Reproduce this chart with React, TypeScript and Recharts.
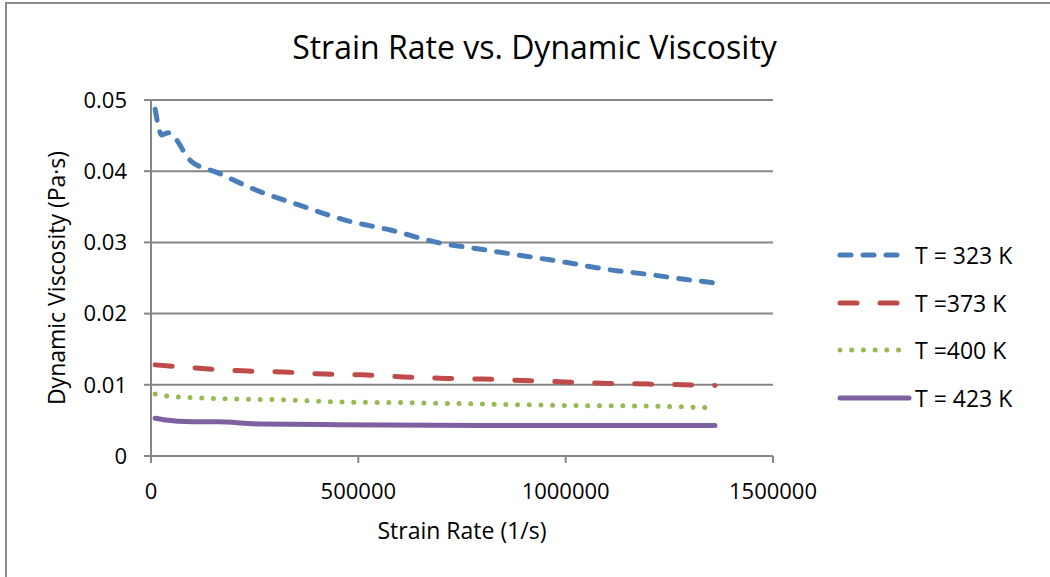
import React from 'react';
import { LineChart, Line, XAxis, YAxis, CartesianGrid } from 'recharts';

// strain rate (1/s) vs. dynamic viscosity (Pa·s) for four temperatures
const t323 = [
  { x: 10000, y: 0.0487 },
  { x: 26000, y: 0.0451 },
  { x: 42000, y: 0.0454 },
  { x: 95000, y: 0.0415 },
  { x: 160000, y: 0.0398 },
  { x: 260000, y: 0.0372 },
  { x: 360000, y: 0.0352 },
  { x: 470000, y: 0.0331 },
  { x: 580000, y: 0.0317 },
  { x: 690000, y: 0.03 },
  { x: 800000, y: 0.029 },
  { x: 900000, y: 0.0281 },
  { x: 1000000, y: 0.0272 },
  { x: 1100000, y: 0.0262 },
  { x: 1200000, y: 0.0255 },
  { x: 1290000, y: 0.0248 },
  { x: 1360000, y: 0.0243 },
];

const t373 = [
  { x: 10000, y: 0.0128 },
  { x: 100000, y: 0.0124 },
  { x: 200000, y: 0.012 },
  { x: 320000, y: 0.0118 },
  { x: 420000, y: 0.0115 },
  { x: 510000, y: 0.0114 },
  { x: 610000, y: 0.0111 },
  { x: 710000, y: 0.0109 },
  { x: 800000, y: 0.0108 },
  { x: 900000, y: 0.0106 },
  { x: 1000000, y: 0.0104 },
  { x: 1100000, y: 0.0102 },
  { x: 1200000, y: 0.0101 },
  { x: 1360000, y: 0.0099 },
];

const t400 = [
  { x: 10000, y: 0.0087 },
  { x: 40000, y: 0.0084 },
  { x: 100000, y: 0.0082 },
  { x: 200000, y: 0.008 },
  { x: 320000, y: 0.0079 },
  { x: 440000, y: 0.0076 },
  { x: 600000, y: 0.0075 },
  { x: 800000, y: 0.0073 },
  { x: 1000000, y: 0.0071 },
  { x: 1200000, y: 0.007 },
  { x: 1350000, y: 0.0068 },
];

const t423 = [
  { x: 10000, y: 0.0053 },
  { x: 30000, y: 0.0051 },
  { x: 100000, y: 0.0048 },
  { x: 160000, y: 0.0048 },
  { x: 260000, y: 0.0045 },
  { x: 450000, y: 0.0044 },
  { x: 800000, y: 0.0043 },
  { x: 1360000, y: 0.0043 },
];

const xTicks = [0, 500000, 1000000, 1500000];
const yTicks = [0, 0.01, 0.02, 0.03, 0.04, 0.05];

const series = [
  { name: 'T = 323 K', data: t323, color: '#4a7ebb', dash: '11 12' },
  { name: 'T =373 K', data: t373, color: '#be4b48', dash: '17 23' },
  { name: 'T =400 K', data: t400, color: '#98b954', dash: '0 11.7' },
  { name: 'T = 423 K', data: t423, color: '#7d60a0', dash: undefined },
];

const FONT = '"Open Sans", sans-serif';
const GRID = '#868686';

// legend sits to the right of the plot, one row per temperature
const SeriesLegend = () => (
  <div style={{ position: 'absolute', left: 837, top: 240, width: 210, height: 190 }}>
    {series.map((s, i) => (
      <div
        key={s.name}
        style={{ position: 'absolute', left: 0, top: i * 47.5, height: 30, display: 'flex', alignItems: 'center' }}
      >
        <svg width={76} height={12}>
          <line
            x1={3}
            y1={6}
            x2={72}
            y2={6}
            stroke={s.color}
            strokeWidth={5}
            strokeLinecap="round"
            strokeDasharray={s.dash}
          />
        </svg>
        <span style={{ fontFamily: FONT, fontSize: 23, color: '#000', marginLeft: 2, whiteSpace: 'pre' }}>
          {s.name}
        </span>
      </div>
    ))}
  </div>
);

export default function App() {
  return (
    <div style={{ position: 'absolute', left: 0, top: 0, width: 1050, height: 577, background: '#fff', overflow: 'hidden' }}>
      <div
        style={{
          position: 'absolute',
          left: 5,
          top: 2,
          width: 1100,
          height: 620,
          border: '2px solid #8c8c8c',
        }}
      />
      <div
        style={{
          position: 'absolute',
          left: 0,
          top: 25,
          width: 1069,
          textAlign: 'center',
          fontFamily: FONT,
          fontSize: 32,
          color: '#000',
        }}
      >
        Strain Rate vs. Dynamic Viscosity
      </div>
      <div style={{ position: 'absolute', left: 0, top: 0 }}>
        <LineChart width={1050} height={577} margin={{ top: 100, right: 277, bottom: 61, left: 0 }}>
          <CartesianGrid vertical={false} stroke={GRID} strokeWidth={2} />
          <XAxis
            type="number"
            dataKey="x"
            domain={[0, 1500000]}
            ticks={xTicks}
            height={60}
            stroke={GRID}
            strokeWidth={2}
            tickSize={7}
            tickMargin={20}
            tick={{ fill: '#000', fontSize: 22, fontFamily: FONT }}
            label={{
              value: 'Strain Rate (1/s)',
              position: 'insideBottom',
              offset: -23,
              style: { fill: '#000', fontSize: 23, fontFamily: FONT },
            }}
          />
          <YAxis
            type="number"
            dataKey="y"
            domain={[0, 0.05]}
            ticks={yTicks}
            width={151}
            stroke={GRID}
            strokeWidth={2}
            tickSize={7}
            tickMargin={17}
            tick={{ fill: '#000', fontSize: 22, fontFamily: FONT }}
            label={{
              value: 'Dynamic Viscosity (Pa·s)',
              angle: -90,
              position: 'insideLeft',
              offset: 0,
              dx: 57,
              style: { fill: '#000', fontSize: 23, fontFamily: FONT, textAnchor: 'middle' },
            }}
          />
          {series.map(s => (
            <Line
              key={s.name}
              data={s.data}
              dataKey="y"
              name={s.name}
              type="monotone"
              stroke={s.color}
              strokeWidth={5}
              strokeLinecap="round"
              strokeDasharray={s.dash}
              dot={false}
              activeDot={false}
              isAnimationActive={false}
            />
          ))}
        </LineChart>
      </div>
      <SeriesLegend />
    </div>
  );
}
